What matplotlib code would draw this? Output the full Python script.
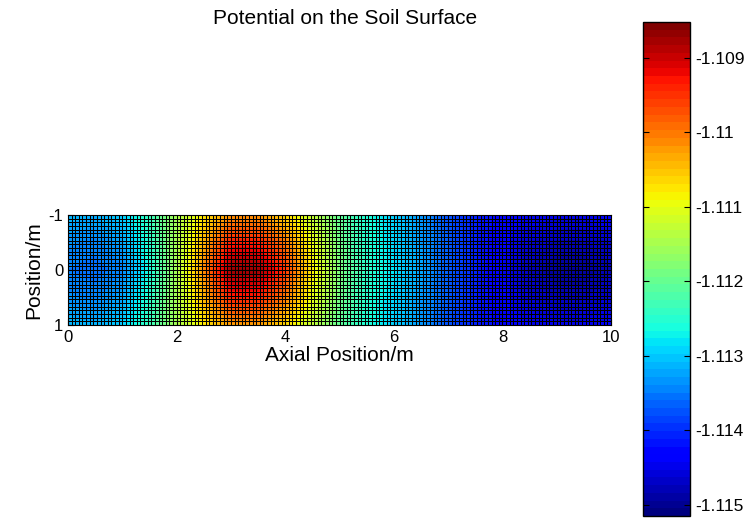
import numpy as np
import matplotlib
matplotlib.use("Agg")
import matplotlib.pyplot as plt
from matplotlib.colors import ListedColormap

plt.rcParams['font.family'] = ['Liberation Sans', 'DejaVu Sans']
plt.rcParams['axes.unicode_minus'] = False

# axial positions (m) where values were read, and transverse positions
x_pos = [0, 0.5, 1, 1.5, 2, 2.5, 3, 3.5, 4, 4.5, 5, 5.5, 6, 6.5, 7, 7.5, 8, 8.5, 9, 9.5, 10]
y_pos = [-1, -0.5, 0, 0.5, 1]

# potential read along the edge (|y|=1), half-way (|y|=0.5) and centre (y=0)
pot_edge = [-1.11309, -1.11316, -1.11296, -1.11237, -1.11150, -1.11077, -1.11024, -1.11024,
            -1.11064, -1.11131, -1.11203, -1.11256, -1.11296, -1.11329, -1.11376, -1.11409,
            -1.11429, -1.11442, -1.11449, -1.11449, -1.11435]
pot_half = [-1.11336, -1.11343, -1.11323, -1.11250, -1.11150, -1.11038, -1.10938, -1.10938,
            -1.10998, -1.11097, -1.11190, -1.11250, -1.11290, -1.11329, -1.11369, -1.11409,
            -1.11435, -1.11462, -1.11475, -1.11475, -1.11462]
pot_center = [-1.11349, -1.11356, -1.11343, -1.11263, -1.11150, -1.11011, -1.10872, -1.10872,
              -1.10951, -1.11077, -1.11184, -1.11243, -1.11283, -1.11323, -1.11369, -1.11409,
              -1.11442, -1.11475, -1.11495, -1.11495, -1.11475]

cbar_ticks = [-1.115, -1.114, -1.113, -1.112, -1.111, -1.11, -1.109]
cbar_labels = ['-1.115', '-1.114', '-1.113', '-1.112', '-1.111', '-1.11', '-1.109']
x_ticks = [0, 2, 4, 6, 8, 10]
y_ticks = [-1, 0, 1]
vmin, vmax = -1.11515, -1.10852

field = np.array([pot_edge, pot_half, pot_center, pot_half, pot_edge])

fig = plt.figure(figsize=(7.48, 5.22), dpi=100)
ax = fig.add_axes([68/748, 1-325/522, 543/748, 110/522])
cmap = ListedColormap(plt.get_cmap('jet')(np.linspace(0, 1, 64)))

dx = x_pos[1]-x_pos[0]
dy = y_pos[1]-y_pos[0]
im = ax.imshow(field, cmap=cmap, vmin=vmin, vmax=vmax, origin='upper',
               extent=[x_pos[0]-dx/2, x_pos[-1]+dx/2, y_pos[-1]+dy/2, y_pos[0]-dy/2],
               interpolation='bilinear', interpolation_stage='data', aspect='auto')

# mesh edges (faceted surface)
xe = np.linspace(0, 10, 151)
ye = np.linspace(-1, 1, 31)
vl = ax.vlines(xe, -1, 1, colors='black', linewidth=0.72)
hl = ax.hlines(ye, 0, 10, colors='black', linewidth=0.72)
vl.set_snap(True)
hl.set_snap(True)

ax.set_xlim(0, 10)
ax.set_ylim(1, -1)
ax.set_xticks(x_ticks)
ax.set_yticks(y_ticks)
ax.tick_params(direction='in', labelsize=12, length=4)
ax.set_xlabel('Axial Position/m', fontsize=15, labelpad=1)
ax.set_ylabel('Position/m', fontsize=15, labelpad=4)
fig.text(345/748, 1-18/522, 'Potential on the Soil Surface', fontsize=15,
         ha='center', va='center')

cax = fig.add_axes([643/748, 1-516/522, 47/748, 494/522])
cb = fig.colorbar(im, cax=cax)
cb.set_ticks(cbar_ticks)
cb.set_ticklabels(cbar_labels)
cax.tick_params(direction='in', labelsize=12.5, length=4, left=True, right=True)
cb.outline.set_linewidth(1.0)

fig.savefig('out.png', dpi=100)
